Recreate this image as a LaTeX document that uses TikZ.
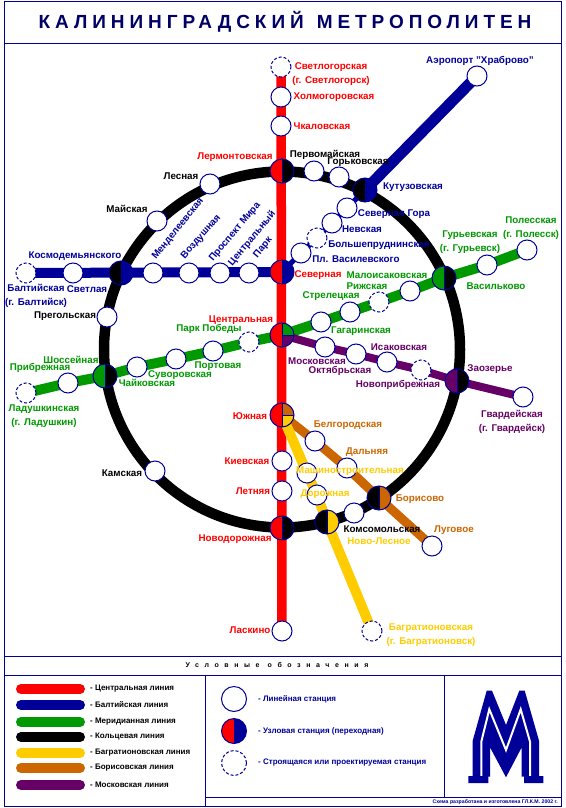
\documentclass[tikz,border=0pt]{standalone}
\usepackage{fontspec}
\setmainfont{Liberation Sans}
\newfontfamily\titlefont[LetterSpace=26]{Liberation Sans}
\newfontfamily\legfont[LetterSpace=80]{Liberation Sans}
\usepackage{xcolor}
\usetikzlibrary{backgrounds}
\definecolor{mred}{HTML}{FF0000}
\definecolor{mblue}{HTML}{000099}
\definecolor{mgreen}{HTML}{009900}
\definecolor{mblack}{HTML}{000000}
\definecolor{myellow}{HTML}{FFCC00}
\definecolor{mbrown}{HTML}{CC6600}
\definecolor{mpurple}{HTML}{660066}
\definecolor{mtitle}{HTML}{000066}
\begin{document}
\begin{tikzpicture}[x=1pt,y=-1pt,
  st/.style={circle,draw=mblue,fill=white,line width=1pt,minimum size=20pt,inner sep=0pt},
  sd/.style={st,densely dashed},
  xc/.style 2 args={circle,draw=mblue,line width=1pt,minimum size=24pt,inner sep=0pt,
    path picture={
      \fill[#1] (path picture bounding box.south west) rectangle (path picture bounding box.north);
      \fill[#2] (path picture bounding box.south) rectangle (path picture bounding box.north east);
      \draw[mblue,line width=0.8pt] (path picture bounding box.south) -- (path picture bounding box.north);}},
  xt/.style n args={3}{circle,draw=mblue,line width=1pt,minimum size=24pt,inner sep=0pt,
    path picture={
      \fill[#1] (path picture bounding box.south west) rectangle (path picture bounding box.north);
      \fill[#2] (path picture bounding box.center) rectangle (path picture bounding box.north east);
      \fill[#3] (path picture bounding box.south) rectangle (path picture bounding box.east);
      \draw[mblue,line width=0.8pt] (path picture bounding box.south) -- (path picture bounding box.north)
        (path picture bounding box.center) -- (path picture bounding box.east);}},
  lbl/.style={font=\fontsize{9.8}{14}\selectfont\bfseries,align=center,inner sep=0pt},
  lr/.style={lbl,text=mred}, lb/.style={lbl,text=mblue}, lg/.style={lbl,text=mgreen},
  lk/.style={lbl,text=black}, ly/.style={lbl,text=myellow}, lo/.style={lbl,text=mbrown},
  lp/.style={lbl,text=mpurple},
  ln/.style={line width=#1,line cap=butt},
  pill/.style={line width=10pt,line cap=round},
  fr/.style={draw=mblue,line width=0.8pt},
  lgd/.style={font=\fontsize{8}{9}\selectfont\bfseries,anchor=west,inner sep=0pt}]
  \useasboundingbox (0,0) rectangle (565,808);
  % frame
  \draw[fr] (4,1) rectangle (561,806);
  \draw[fr] (4,43) -- (561,43) (4,656) -- (561,656) (4,675) -- (561,675);
  \draw[fr] (205,675) -- (205,806) (444,675) -- (444,797) (205,797) -- (561,797);
  \node[text=mtitle,inner sep=0pt,font=\titlefont\fontsize{19}{22}\selectfont\bfseries] (title) at (285,22) {КАЛИНИНГРАДСКИЙ\hspace{13pt}МЕТРОПОЛИТЕН};
  % central line
  \node[sd] (svt) at (281,67) {};
  \node[st] (hlm) at (281,97) {};
  \node[st] (chk) at (281,126) {};
  \node[xc={mred}{black}] (lrm) at (282,171) {};
  \node[xc={mred}{mblue}] (sev) at (282,272) {};
  \node[xt={mred}{mgreen}{mpurple}] (cen) at (282,335) {};
  \node[xt={mred}{mbrown}{myellow}] (uzh) at (282,415) {};
  \node[st] (kie) at (282,461) {};
  \node[st] (let) at (282,491) {};
  \node[xc={mred}{black}] (nvd) at (282,528) {};
  \node[st] (las) at (282,631) {};
  % baltic line
  \node[sd] (bal) at (26,273) {};
  \node[st] (svl) at (73,273) {};
  \node[xc={black}{mblue}] (kos) at (121,273) {};
  \node[st] (men) at (153,273) {};
  \node[st] (voz) at (189,273) {};
  \node[st] (prm) at (220,273) {};
  \node[st] (cpk) at (249,273) {};
  \node[st] (plv) at (301,253) {};
  \node[sd] (bpr) at (317,238) {};
  \node[st] (nev) at (332,223) {};
  \node[st] (sgr) at (347,208) {};
  \node[xc={black}{mblue}] (kut) at (365,190) {};
  \node[st] (aer) at (477,76) {};
  % meridian line
  \node[sd] (lad) at (26,393) {};
  \node[st] (prb) at (68,383) {};
  \node[xc={mgreen}{black}] (sho) at (105,376) {};
  \node[st] (cha) at (137,367) {};
  \node[st] (suv) at (176,359) {};
  \node[st] (por) at (213,351) {};
  \node[sd] (ppb) at (249,342) {};
  \node[st] (str) at (321,322) {};
  \node[st] (gag) at (350,312) {};
  \node[sd] (riz) at (379,302) {};
  \node[st] (mal) at (410,291) {};
  \node[xc={mgreen}{black}] (vas) at (444,278) {};
  \node[st] (gur) at (487,265) {};
  \node[st] (pol) at (527,250) {};
  % moscow line
  \node[st] (mos) at (325,347) {};
  \node[st] (okt) at (356,354) {};
  \node[st] (isa) at (387,362) {};
  \node[sd] (npr) at (421,370) {};
  \node[xc={mpurple}{black}] (zao) at (457,381) {};
  \node[st] (gva) at (523,397) {};
  % borisov line
  \node[st] (bel) at (315,441) {};
  \node[st] (dal) at (347,468) {};
  \node[xc={black}{mbrown}] (bor) at (379,498) {};
  \node[st] (lug) at (432,546) {};
  % bagrationov line
  \node[st] (mash) at (307,473) {};
  \node[st] (dor) at (317,495) {};
  \node[xc={black}{myellow}] (nle) at (327,522) {};
  \node[sd] (bag) at (372,631) {};
  % ring line
  \node[st] (per) at (314,171) {};
  \node[st] (gor) at (339,177) {};
  \node[st] (les) at (210,184) {};
  \node[st] (mai) at (157,221) {};
  \node[st] (pre) at (107,317) {};
  \node[st] (kam) at (155,471) {};
  \node[st] (kom) at (354,513) {};
  \coordinate (rc) at (282,349.5);
  \begin{scope}[on background layer]
    \fill[white] (0,0) rectangle (565,808);
    \draw[black,line width=10.5pt] (rc) circle (178pt);
    \draw[ln=9.5pt,mred] (svt.center) -- (las.center);
    \draw[ln=10pt,mblue] (bal.center) -- (sev.center);
    \draw[ln=5pt,mblue] (sev.center) -- (plv.center) -- (bpr.center) -- (nev.center) -- (sgr.center) -- (kut.center);
    \draw[ln=11pt,mblue] (kut.center) -- (aer.center);
    \draw[ln=10pt,mgreen] (lad.center) -- (prb.center) -- (sho.center) -- (cha.center) -- (suv.center) -- (por.center) -- (ppb.center) -- (cen.center) -- (str.center) -- (gag.center) -- (riz.center) -- (mal.center) -- (vas.center) -- (gur.center) -- (pol.center);
    \draw[ln=8pt,mpurple] (cen.center) -- (mos.center) -- (okt.center) -- (isa.center) -- (npr.center) -- (zao.center) -- (gva.center);
    \draw[ln=9pt,mbrown] (uzh.center) -- (bel.center) -- (dal.center) -- (bor.center) -- (lug.center);
    \draw[ln=10pt,myellow] (uzh.center) -- (mash.center) -- (dor.center) -- (nle.center) -- (bag.center);
  \end{scope}
  % labels
  \node[lr] (tsvt) at (331,74) {Светлогорская\\(г. Светлогорск)};
  \node[lr] (thlm) at (334,97) {Холмогоровская};
  \node[lr] (tchk) at (322,126) {Чкаловская};
  \node[lr] (tlrm) at (235,157) {Лермонтовская};
  \node[lr] (tsev) at (318,275) {Северная};
  \node[lr] (tcen) at (241,320) {Центральная};
  \node[lr] (tuzh) at (250,416) {Южная};
  \node[lr] (tkie) at (247,461) {Киевская};
  \node[lr] (tlet) at (253,491) {Летняя};
  \node[lr] (tnvd) at (235,539) {Новодорожная};
  \node[lr] (tlas) at (250,630) {Ласкино};
  \node[lb] (taer) at (480,61) {Аэропорт "Храброво"};
  \node[lb] (tkut) at (413,187) {Кутузовская};
  \node[lb] (tsgr) at (394,214) {Северная Гора};
  \node[lb] (tnev) at (362,229) {Невская};
  \node[lb] (tbpr) at (379,245) {Большепруднинская};
  \node[lb] (tplv) at (356,259) {Пл. Василевского};
  \node[lb] (tkos) at (75,256) {Космодемьянского};
  \node[lb] (tbal) at (36,296) {Балтийская\\(г. Балтийск)};
  \node[lb] (tsvl) at (87,289) {Светлая};
  \node[lb,rotate=51] (tmen) at (178,229) {Менделеевская};
  \node[lb,rotate=49] (tvoz) at (201,237) {Воздушная};
  \node[lb,rotate=50] (tprm) at (235,232) {Проспект Мира};
  \node[lb,rotate=50] (tcpk) at (257.5,243) {Центральный\\Парк};
  \node[lg] (tmal) at (387,275) {Малоисаковская};
  \node[lg] (triz) at (367,286) {Рижская};
  \node[lg] (tstr) at (331,296) {Стрелецкая};
  \node[lg] (tgag) at (361,331) {Гагаринская};
  \node[lg] (tgur) at (470,242) {Гурьевская\\(г. Гурьевск)};
  \node[lg] (tpol) at (531,228) {Полесская\\(г. Полесск)};
  \node[lg] (tvas) at (496,286) {Васильково};
  \node[lg] (tppb) at (209,329) {Парк Победы};
  \node[lg] (tpor) at (218,366) {Портовая};
  \node[lg] (tsuv) at (180,375) {Суворовская};
  \node[lg] (tcha) at (147,383) {Чайковская};
  \node[lg] (tsho) at (71,360) {Шоссейная};
  \node[lg] (tprb) at (40,368) {Прибрежная};
  \node[lg] (tlad) at (44,416) {Ладушкинская\\(г. Ладушкин)};
  \node[lp] (tmos) at (317,361) {Московская};
  \node[lp] (tokt) at (340,371) {Октябрьская};
  \node[lp] (tisa) at (399,347) {Исаковская};
  \node[lp] (tnpr) at (398,385) {Новоприбрежная};
  \node[lp] (tzao) at (490,369) {Заозерье};
  \node[lp] (tgva) at (512,422) {Гвардейская\\(г. Гвардейск)};
  \node[lo] (tbel) at (348,425) {Белгородская};
  \node[lo] (tdal) at (367,452) {Дальняя};
  \node[lo] (tbor) at (420,499) {Борисово};
  \node[lo] (tlug) at (454,530) {Луговое};
  \node[ly] (tmash) at (350,471) {Машиностроительная};
  \node[ly] (tdor) at (325,494) {Дорожная};
  \node[ly] (tnle) at (379,541) {Ново-Лесное};
  \node[ly] (tbag) at (431,635) {Багратионовская\\(г. Багратионовск)};
  \node[lk] (tper) at (325,155) {Первомайская};
  \node[lk] (tgor) at (358,162) {Горьковская};
  \node[lk] (tles) at (181,176) {Лесная};
  \node[lk] (tmai) at (127,209) {Майская};
  \node[lk] (tpre) at (65,316) {Прегольская};
  \node[lk] (tkam) at (122,473) {Камская};
  \node[lk] (tkom) at (382,529) {Комсомольская};
  % legend
  \node[inner sep=0pt,font=\legfont\fontsize{7}{8}\selectfont\bfseries] (lhead) at (277,665) {Условные\hspace{8pt}обозначения};
  \foreach \cl/\nm/\yy in {mred/Центральная/689,mblue/Балтийская/705,mgreen/Меридианная/722,
      mblack/Кольцевая/737,myellow/Багратионовская/753,mbrown/Борисовская/768,mpurple/Московская/785}{
    \node[inner sep=0pt] (k\yy) at (90,\yy) {};
    \draw[pill,\cl] (21,\yy) -- (80,\yy);
    \node[lgd] (n\yy) at (k\yy) {- \nm\ линия};
  }
  \node[st,minimum size=25pt] (ks) at (234,699) {};
  \node[xc={mred}{mblue},minimum size=25pt] (kx) at (234,731) {};
  \node[sd,minimum size=25pt] (kd) at (234,763) {};
  \node[lgd,text=mblue] (ts) at (258,699) {- Линейная станция};
  \node[lgd,text=mblue] (tx) at (258,731) {- Узловая станция (переходная)};
  \node[lgd,text=mblue] (td) at (258,763) {- Строящаяся или проектируемая станция};
  \node[lgd,anchor=east,text=mblue,font=\fontsize{5.2}{6}\selectfont\bfseries] (cred) at (558,802) {Схема разработана и изготовлена ГЛ.К.М. 2002 г.};
  % logo
  \fill[mblue] (472.7,776.7) -- (472.7,740.7) -- (486.7,690.7) -- (492,690.7) -- (506,725) -- (519.3,690.7) -- (524.7,690.7) -- (539,740.7) -- (539,776.7)
    -- (521.7,776.7) -- (521.7,747.3) -- (506,777.3) -- (490,747.3) -- (490,776.7) -- cycle;
  \draw[white,line width=2pt] (481.3,777) -- (481.3,741.7) -- (489.3,709.3) -- (506,750) -- (520.7,709.3) -- (530,741.7) -- (530,777);
  \fill[mblue] (468.3,776) rectangle (488.3,783) (524,776) rectangle (543.3,783);
\end{tikzpicture}
\end{document}
